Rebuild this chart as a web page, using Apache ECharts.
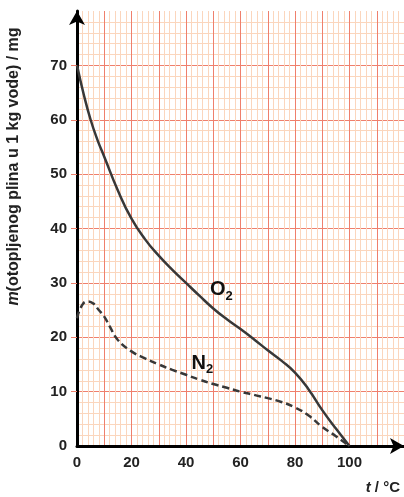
<!DOCTYPE html>
<html>
<head>
<meta charset="utf-8">
<script src="https://cdn.jsdelivr.net/npm/echarts@6/dist/echarts.min.js"></script>
<style>
html,body{margin:0;padding:0;background:#fff;}
#main{width:404px;height:497px;}
</style>
</head>
<body>
<div id="main"></div>
<script>
// ocitano sa slike
var o2X = [0, 2.5, 5, 7.5, 10, 15, 20, 25, 30, 35, 40, 45, 50, 55, 60, 65, 70, 75, 80, 85, 90, 95, 100];
var o2Y = [70, 64.6, 60, 56.3, 53.2, 47, 41.8, 38, 35, 32.4, 30, 27.6, 25.3, 23.3, 21.5, 19.6, 17.6, 15.7, 13.5, 10.4, 6.6, 3.2, 0];
var n2X = [0, 2, 4, 6, 8, 10, 12, 15, 20, 25, 30, 35, 40, 45, 50, 55, 60, 65, 70, 75, 80, 85, 90, 95, 100];
var n2Y = [23.5, 26, 26.6, 26.2, 25, 23.8, 22, 19.5, 17.4, 16.1, 15, 14, 13.1, 12.2, 11.4, 10.7, 10, 9.4, 8.8, 8.1, 7.1, 5.6, 3.5, 1.8, 0];
var xTickLabels = [0, 20, 40, 60, 80, 100];
var yTickLabels = [0, 10, 20, 30, 40, 50, 60, 70];
var gasLabels = [
  {name: 'O2', coord: [53, 28.7]},
  {name: 'N2', coord: [46, 15.1]}
];

function pairs(xs, ys){
  var out = [];
  for(var i = 0; i < xs.length; i++){
    out.push([xs[i], ys[i]]);
  }
  return out;
}

var majorColor = '#ef7f6c';
var minorColor = '#fbd6bd';
var font = 'Liberation Sans, Arial, sans-serif';

var myChart = echarts.init(document.getElementById('main'));
var option = {
  backgroundColor: '#fff',
  animation: false,
  grid: {left: 77, right: 0, top: 11, bottom: 51, outerBoundsMode: 'none'},
  xAxis: {
    type: 'value',
    min: 0,
    max: 120,
    interval: 10,
    axisLine: {
      show: true,
      lineStyle: {color: '#000', width: 3},
      symbol: ['none', 'arrow'],
      symbolSize: [12, 14]
    },
    axisTick: {show: false},
    axisLabel: {
      customValues: xTickLabels,
      color: '#222',
      fontWeight: 'bold',
      fontSize: 15,
      fontFamily: font,
      margin: 9
    },
    splitLine: {show: true, lineStyle: {color: majorColor, width: 1}},
    minorTick: {show: false, splitNumber: 5},
    minorSplitLine: {show: true, lineStyle: {color: minorColor, width: 1}},
    name: '{i|t} / °C',
    nameLocation: 'end',
    nameGap: -4,
    nameTextStyle: {
      align: 'right',
      verticalAlign: 'top',
      padding: [34, 0, 0, 0],
      color: '#222',
      fontWeight: 'bold',
      fontSize: 15,
      fontFamily: font,
      rich: {
        i: {fontStyle: 'italic', fontWeight: 'bold', fontSize: 15, fontFamily: font, color: '#222'}
      }
    }
  },
  yAxis: {
    type: 'value',
    min: 0,
    max: 80,
    interval: 10,
    axisLine: {
      show: true,
      lineStyle: {color: '#000', width: 3},
      symbol: ['none', 'arrow'],
      symbolSize: [12, 14]
    },
    axisTick: {
      show: true,
      customValues: [10, 20, 30, 40, 50, 60, 70],
      length: 6,
      lineStyle: {color: majorColor, width: 1}
    },
    axisLabel: {
      customValues: yTickLabels,
      color: '#222',
      fontWeight: 'bold',
      fontSize: 15,
      fontFamily: font,
      margin: 10
    },
    splitLine: {show: true, lineStyle: {color: majorColor, width: 1}},
    minorTick: {show: false, splitNumber: 5},
    minorSplitLine: {show: true, lineStyle: {color: minorColor, width: 1}},
    name: '{i|m}(otopljenog plina u 1 kg vode) / mg',
    nameLocation: 'middle',
    nameRotate: 90,
    nameGap: 55,
    nameTextStyle: {
      color: '#222',
      fontWeight: 'bold',
      fontSize: 16,
      fontFamily: font,
      padding: [0, 0, 0, 124],
      rich: {
        i: {fontStyle: 'italic', fontWeight: 'bold', fontSize: 16, fontFamily: font, color: '#222'}
      }
    }
  },
  series: [
    {
      name: 'O2',
      type: 'line',
      data: pairs(o2X, o2Y),
      smooth: 0.5,
      symbol: 'none',
      lineStyle: {color: '#383838', width: 2.5},
      z: 5,
      markPoint: {
        symbol: 'circle',
        symbolSize: 0,
        data: [gasLabels[0]],
        label: {
          show: true,
          formatter: 'O{s|2}',
          color: '#111',
          fontWeight: 'bold',
          fontSize: 20,
          fontFamily: font,
          rich: {s: {fontSize: 13, fontWeight: 'bold', fontFamily: font, color: '#111', padding: [12, 0, 0, 0]}}
        }
      }
    },
    {
      name: 'N2',
      type: 'line',
      data: pairs(n2X, n2Y),
      smooth: 0.5,
      symbol: 'none',
      lineStyle: {color: '#383838', width: 2.5, type: [7, 4]},
      z: 5,
      markPoint: {
        symbol: 'circle',
        symbolSize: 0,
        data: [gasLabels[1]],
        label: {
          show: true,
          formatter: 'N{s|2}',
          color: '#111',
          fontWeight: 'bold',
          fontSize: 20,
          fontFamily: font,
          rich: {s: {fontSize: 13, fontWeight: 'bold', fontFamily: font, color: '#111', padding: [12, 0, 0, 0]}}
        }
      }
    }
  ]
};
myChart.setOption(option);
</script>
</body>
</html>
